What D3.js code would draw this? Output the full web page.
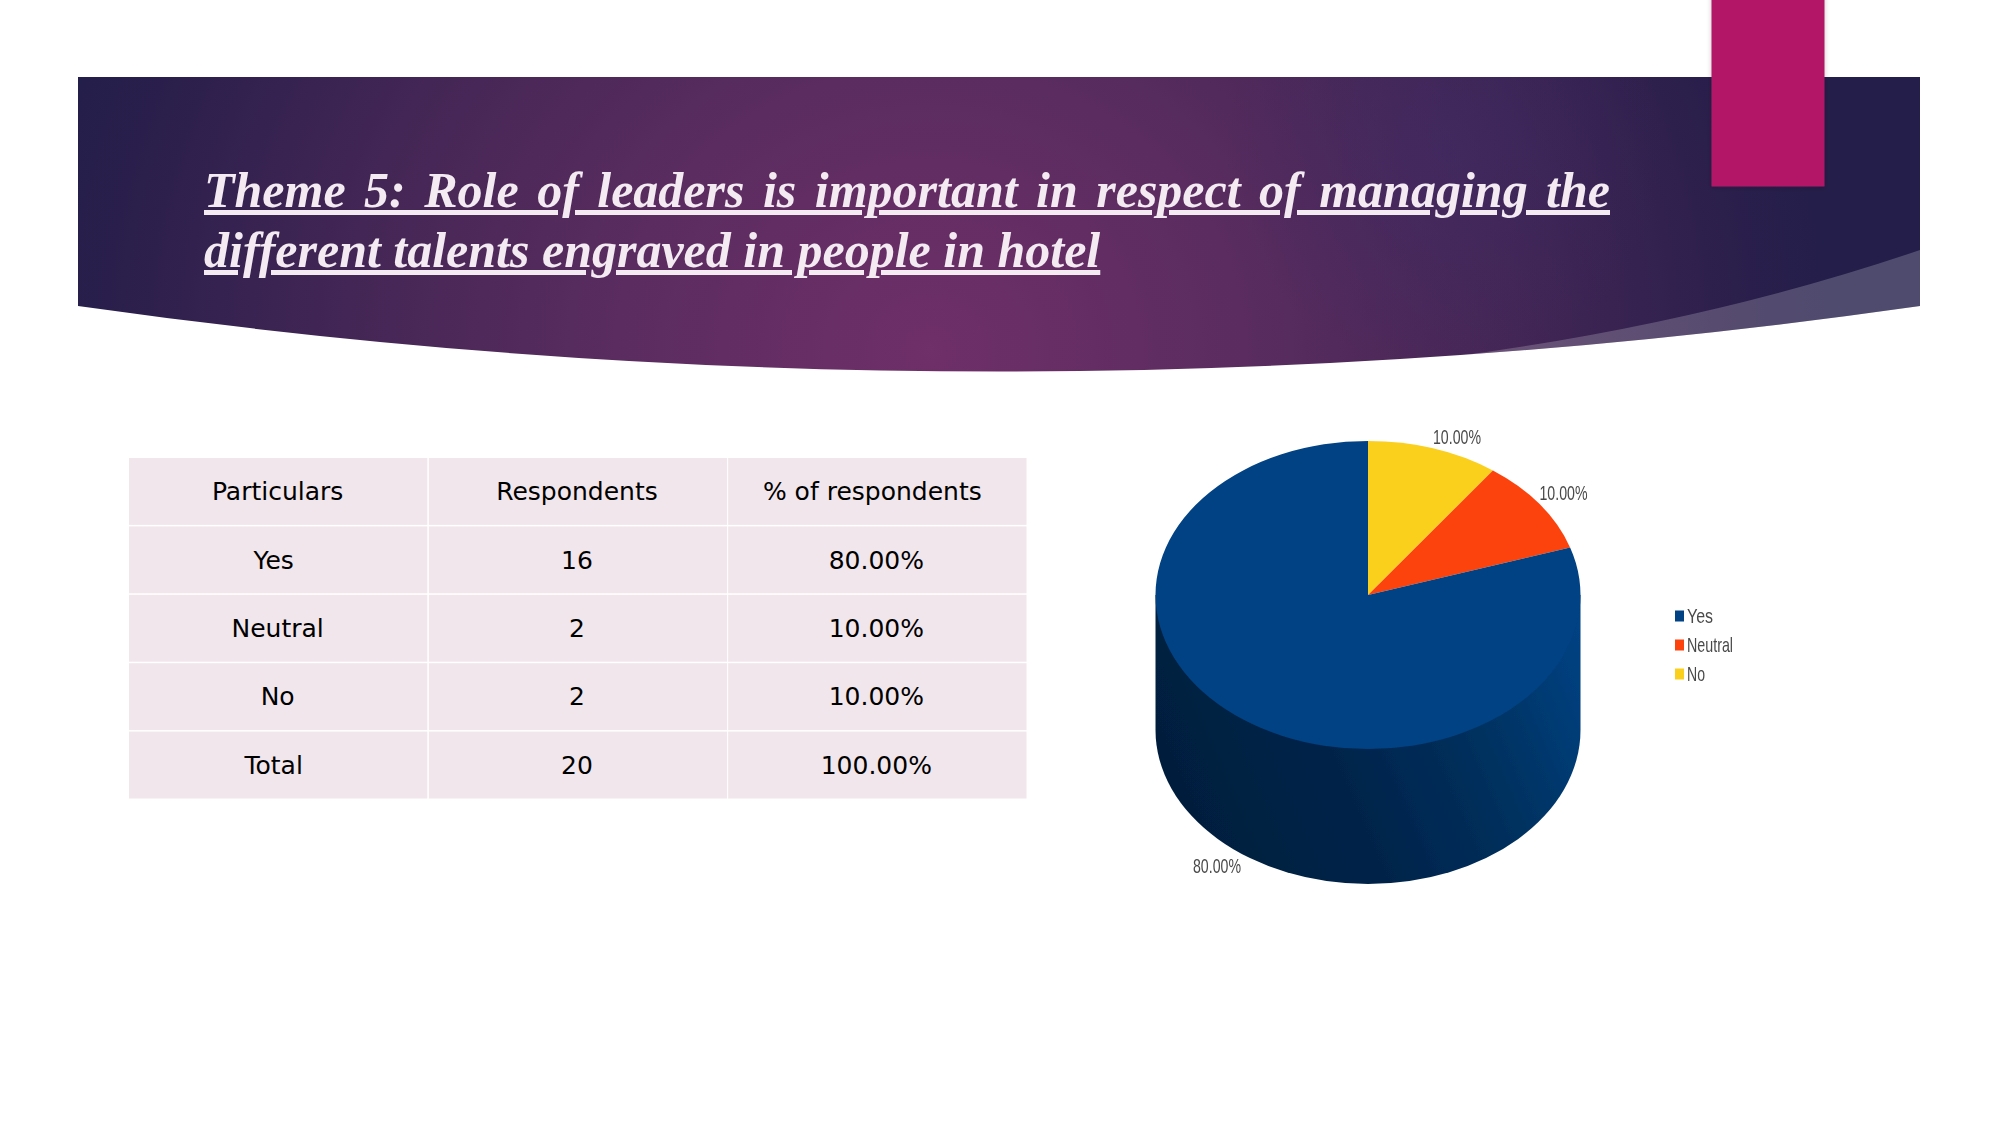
<!DOCTYPE html>
<html><head><meta charset="utf-8">
<script src="https://cdn.jsdelivr.net/npm/d3@7"></script>
<style>html,body{margin:0;padding:0;background:#fff;overflow:hidden}svg{display:block}</style>
</head><body><script>
const titleLines = ["Theme 5: Role of leaders is important in respect of managing the", "different talents engraved in people in hotel"];
const tableHeader = ["Particulars", "Respondents", "% of respondents"];
const categories = ["Yes", "Neutral", "No"];
const respondents = [16, 2, 2];
const shares = ["80.00%", "10.00%", "10.00%"];
const totalRow = ["Total", "20", "100.00%"];
const sliceColors = ["#004283", "#fc430e", "#fbd01f"];

const W = 2001, H = 1125;
const svg = d3.select("body").append("svg").attr("width", W).attr("height", H).attr("viewBox", [0,0,W,H]);
const defs = svg.append("defs");

const bg = defs.append("radialGradient").attr("id","bannerBg").attr("gradientUnits","userSpaceOnUse")
  .attr("cx",930).attr("cy",350).attr("r",900).attr("gradientTransform","translate(930 350) scale(1 0.9) translate(-930 -350)");
[[0,"#6f2f69"],[0.35,"#5a2c5f"],[0.65,"#432655"],[0.9,"#2b1f4c"],[1,"#241e4a"]].forEach(([o,c])=>bg.append("stop").attr("offset",o).attr("stop-color",c));
const glow = defs.append("radialGradient").attr("id","glow").attr("gradientUnits","userSpaceOnUse").attr("cx",1445).attr("cy",150).attr("r",220);
glow.append("stop").attr("offset",0).attr("stop-color","#3d2a66").attr("stop-opacity",0.5);
glow.append("stop").attr("offset",1).attr("stop-color","#3d2a66").attr("stop-opacity",0);
const wall = defs.append("linearGradient").attr("id","wall").attr("gradientUnits","userSpaceOnUse")
  .attr("x1",1190).attr("y1",800).attr("x2",1580).attr("y2",630);
[[0,"#001f3e"],[0.35,"#00244a"],[0.65,"#002f5c"],[0.85,"#003a72"],[1,"#004283"]].forEach(([o,c])=>wall.append("stop").attr("offset",o).attr("stop-color",c));
const soft = defs.append("filter").attr("id","soft"); soft.append("feGaussianBlur").attr("stdDeviation",0.6);
const softer = defs.append("filter").attr("id","softer").attr("x","-2%").attr("y","-10%").attr("width","104%").attr("height","120%"); softer.append("feGaussianBlur").attr("stdDeviation",0.45);
const sh = defs.append("filter").attr("id","shadow").attr("x","-20%").attr("y","-20%").attr("width","140%").attr("height","140%");
sh.append("feDropShadow").attr("dx",0).attr("dy",1).attr("stdDeviation",2.5).attr("flood-color","#2a0a2a").attr("flood-opacity",0.22);

// Banner
const bL = 78, bR = 1920, bT = 77, bE = 306, bC = 437;
const bannerPath = `M${bL},${bT}H${bR}V${bE}Q${(bL+bR)/2},${bC} ${bL},${bE}Z`;
defs.append("clipPath").attr("id","bannerClip").append("path").attr("d",bannerPath);
svg.append("path").attr("d",bannerPath).attr("fill","url(#bannerBg)");
svg.append("path").attr("d",bannerPath).attr("fill","url(#glow)");
svg.append("path").attr("clip-path","url(#bannerClip)").attr("d",`M${bR},250Q1700,325 1442,358V450H${bR}Z`).attr("fill","#fff").attr("fill-opacity",0.2);
svg.append("rect").attr("x",1711.5).attr("y",-10).attr("width",113).attr("height",196.5).attr("fill","#b31266").attr("filter","url(#shadow)");

// Title
const titleG = svg.append("g").attr("filter","url(#softer)").attr("font-family","'Liberation Serif'").attr("font-style","italic").attr("font-weight","bold").attr("font-size",50).attr("fill","#f3eaf2").attr("text-decoration","underline").style("text-decoration-thickness","2.5px");
const t1 = titleG.append("text").attr("x",204).attr("y",207).text(titleLines[0]);
const t2 = titleG.append("text").attr("x",204).attr("y",267).text(titleLines[1]);
const gaps = titleLines[0].split(" ").length - 1;
t1.attr("word-spacing", (1406 - t1.node().getComputedTextLength()) / gaps);

// Table
const rows = [tableHeader, ...categories.map((c,i)=>[c, String(respondents[i]), shares[i]]), totalRow];
const xCol = d3.scaleBand().domain(d3.range(3)).range([129,1027]);
const yRow = d3.scaleBand().domain(d3.range(rows.length)).range([458,800]);
const nudged = new Set(["Yes","Total","% of respondents"]);
const rowG = svg.selectAll("g.row").data(rows).join("g").attr("class","row").attr("transform",(d,i)=>`translate(0,${yRow(i)})`);
rowG.selectAll("rect").data(d=>d).join("rect").attr("x",(d,i)=>xCol(i)+(i?0.5:0)).attr("width",(d,i)=>xCol.bandwidth()-1).attr("y",0).attr("height",yRow.bandwidth()-1.5).attr("fill","#f1e6eb");
rowG.selectAll("text").data(d=>d).join("text")
  .attr("x",(d,i)=>xCol(i)+xCol.bandwidth()/2-1+(nudged.has(d)?-4:0))
  .attr("y",yRow.bandwidth()/2+8).attr("text-anchor","middle")
  .attr("font-family","'DejaVu Sans'").attr("font-size",25).attr("fill","#000").text(d=>d);

// Pie: cylinder drawn from the same values
const cx = 1368, cy = 595, rx = 212.5, ry = 154, depth = 135;
const pieG = svg.append("g").attr("filter","url(#soft)");
const order = [2,1,0]; // clockwise from 12 o'clock: No, Neutral, Yes
const pie = d3.pie().sort(null).value(i=>respondents[i]);
const arc = d3.arc().innerRadius(0).outerRadius(rx);
pieG.append("path").attr("d",`M${cx-rx},${cy}V${cy+depth}A${rx},${ry} 0 0 0 ${cx+rx},${cy+depth}V${cy}Z`).attr("fill","url(#wall)");
pieG.selectAll("path.slice").data(pie(order)).join("path").attr("class","slice")
  .attr("transform",`translate(${cx},${cy}) scale(1,${ry/rx})`).attr("d",arc).attr("fill",d=>sliceColors[d.data]);

// Pie labels and legend
const labelG = svg.append("g").attr("filter","url(#soft)").attr("font-family","'Liberation Sans'").attr("fill","#4a4a4a");
const labelPos = [[1217,866],[1563.5,493],[1457,436.5]];
labelG.selectAll("text.pct").data(shares).join("text").attr("class","pct")
  .attr("x",(d,i)=>labelPos[i][0]-24).attr("y",(d,i)=>labelPos[i][1]+7)
  .attr("font-size",21).attr("textLength",48).attr("lengthAdjust","spacingAndGlyphs").text(d=>d);
const legY = d3.scalePoint().domain(categories).range([616,674]);
const legW = {Yes:26, Neutral:46, No:18};
labelG.selectAll("rect.key").data(categories).join("rect").attr("class","key")
  .attr("x",1675).attr("y",d=>legY(d)-5.5).attr("width",9).attr("height",11).attr("fill",(d,i)=>sliceColors[i]);
labelG.selectAll("text.leg").data(categories).join("text").attr("class","leg")
  .attr("x",1687).attr("y",d=>legY(d)+6.5).attr("font-size",21).attr("textLength",d=>legW[d]).attr("lengthAdjust","spacingAndGlyphs").text(d=>d);
</script></body></html>
